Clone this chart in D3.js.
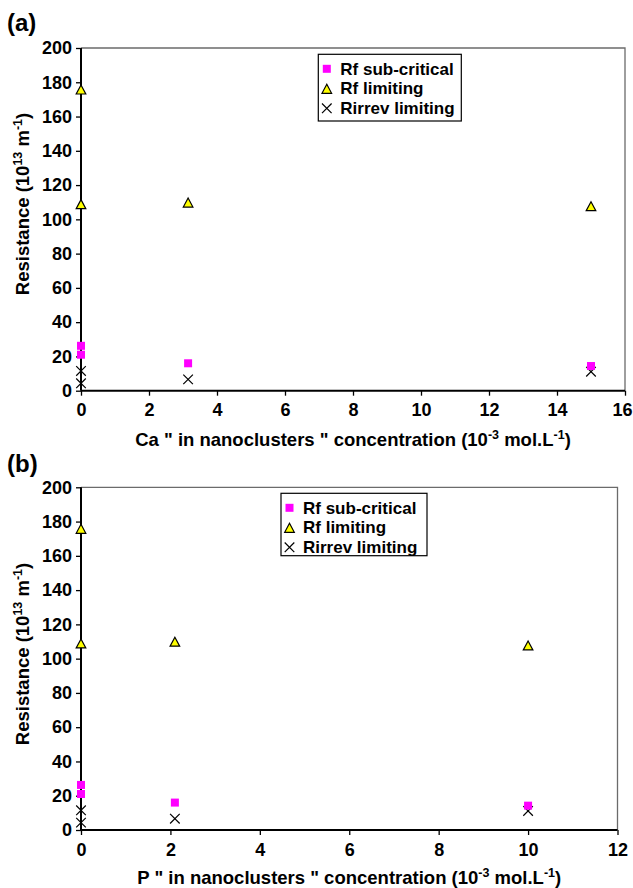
<!DOCTYPE html>
<html><head><meta charset="utf-8">
<script src="https://cdn.jsdelivr.net/npm/d3@7"></script>
<style>
html,body{margin:0;padding:0;background:#fff;}
svg{display:block;font-family:"Liberation Sans",Arial,sans-serif;}
</style></head>
<body>
<svg id="chart" width="633" height="888"></svg>
<script>
// ---- data ----
const seriesNames = ["Rf sub-critical", "Rf limiting", "Rirrev limiting"];
const yTicks = [0, 20, 40, 60, 80, 100, 120, 140, 160, 180, 200];
// Panel (a): Ca
const aTicks = [0, 2, 4, 6, 8, 10, 12, 14, 16];
const aSubX = [0, 0, 3.15, 15];
const aSubY = [26.2, 21.0, 16.0, 14.4];
const aLimX = [0, 0, 3.15, 15];
const aLimY = [175.5, 108.6, 109.5, 107.4];
const aIrrX = [0, 0, 3.15, 15];
const aIrrY = [11.5, 4.3, 6.6, 11.1];
// Panel (b): P
const bTicks = [0, 2, 4, 6, 8, 10, 12];
const bSubX = [0, 0, 2.1, 10];
const bSubY = [26.3, 21.0, 16.0, 14.2];
const bLimX = [0, 0, 2.1, 10];
const bLimY = [175.5, 108.6, 109.6, 107.4];
const bIrrX = [0, 0, 2.1, 10];
const bIrrY = [11.5, 4.3, 6.6, 11.1];

const svg = d3.select("#chart");

function zip(xs, ys){ return xs.map((x,i)=>({x:x, y:ys[i]})); }

function drawSquare(g, cx, cy){
  g.append("rect").attr("x", cx-4).attr("y", cy-4).attr("width", 8).attr("height", 8)
    .attr("fill", "#ff00ff");
}
function drawTri(g, cx, cy){
  g.append("path").attr("d", `M${cx},${cy-5} L${cx+4.8},${cy+4} L${cx-4.8},${cy+4} Z`)
    .attr("fill", "#ffff00").attr("stroke", "#000").attr("stroke-width", 1.2);
}
function drawCross(g, cx, cy){
  const s = 4.8;
  g.append("path").attr("d", `M${cx-s},${cy-s} L${cx+s},${cy+s} M${cx-s},${cy+s} L${cx+s},${cy-s}`)
    .attr("stroke", "#000").attr("stroke-width", 1.2).attr("fill", "none");
}

function panel(cfg){
  const g = svg.append("g");
  const x = d3.scaleLinear().domain([0, cfg.xmax]).range([cfg.left, cfg.right]);
  const y = d3.scaleLinear().domain([0, 200]).range([cfg.bottom, cfg.top]);

  g.append("path").attr("d", `M${cfg.left},${cfg.top} H${cfg.right} V${cfg.bottom}`)
    .attr("fill", "none").attr("stroke", "#6b6b6b").attr("stroke-width", 1.3);

  const yAx = g.append("g").attr("transform", `translate(${cfg.left},0)`)
    .call(d3.axisLeft(y).tickValues(yTicks).tickSize(5).tickPadding(4).tickFormat(d3.format("d")));
  const xAx = g.append("g").attr("transform", `translate(0,${cfg.bottom})`)
    .call(d3.axisBottom(x).tickValues(cfg.ticks).tickSize(5).tickPadding(8).tickFormat(d3.format("d")));
  [yAx, xAx].forEach(a => {
    a.select(".domain").attr("stroke", "#000").attr("stroke-width", 2);
    a.selectAll(".tick line").attr("stroke", "#000").attr("stroke-width", 1.3);
    a.selectAll(".tick text").attr("fill", "#000").style("font-size", "18px").style("font-weight", "bold")
      .style("font-family", '"Liberation Sans",Arial,sans-serif');
  });
  // keep the last x tick label inside the page
  xAx.selectAll(".tick text").filter(d => d === cfg.xmax).attr("dx", cfg.lastDx);
  yAx.select(".domain").attr("d", `M0,${cfg.bottom}V${cfg.top}`);
  xAx.select(".domain").attr("d", `M${cfg.left},0H${cfg.right}`);

  const pts = g.append("g");
  zip(cfg.irrX, cfg.irrY).forEach(d => drawCross(pts, x(d.x), y(d.y)));
  zip(cfg.limX, cfg.limY).forEach(d => drawTri(pts, x(d.x), y(d.y)));
  zip(cfg.subX, cfg.subY).forEach(d => drawSquare(pts, x(d.x), y(d.y)));

  const lg = g.append("g").attr("transform", `translate(${cfg.lx},${cfg.ly})`);
  lg.append("rect").attr("x", 0).attr("y", 0).attr("width", cfg.lw).attr("height", cfg.lh)
    .attr("fill", "#fff").attr("stroke", "#000").attr("stroke-width", 1.2);
  const rowY = [14.5, 34, 54];
  const marks = [drawSquare, drawTri, drawCross];
  seriesNames.forEach((n, i) => {
    marks[i](lg, 8.5, rowY[i] + (i===1 ? 1 : 0));
    lg.append("text").attr("x", 22).attr("y", rowY[i] + 6).text(n)
      .attr("font-size", "17px").attr("font-weight", "bold").attr("fill", "#000");
  });

  g.append("text").attr("x", 7).attr("y", cfg.labelY).text(cfg.label)
    .attr("font-size", "24px").attr("font-weight", "bold");

  const yt = g.append("text").attr("transform", `translate(29,${cfg.yTitleC}) rotate(-90)`)
    .attr("text-anchor", "middle").attr("font-size", "18.5px").attr("font-weight", "bold");
  yt.append("tspan").text("Resistance (10");
  yt.append("tspan").attr("dy", -7.5).attr("font-size", "12.5px").text("13");
  yt.append("tspan").attr("dy", 7.5).text(" m");
  yt.append("tspan").attr("dy", -7.5).attr("font-size", "12.5px").text("-1");
  yt.append("tspan").attr("dy", 7.5).text(")");

  const xt = g.append("text").attr("x", (cfg.left + cfg.right) / 2).attr("y", cfg.xTitleY)
    .attr("text-anchor", "middle").attr("font-size", "18.5px").attr("font-weight", "bold");
  xt.append("tspan").text(cfg.xName + " \" in nanoclusters \" concentration (10");
  xt.append("tspan").attr("dy", -7.5).attr("font-size", "12.5px").text("-3");
  xt.append("tspan").attr("dy", 7.5).text(" mol.L");
  xt.append("tspan").attr("dy", -7.5).attr("font-size", "12.5px").text("-1");
  xt.append("tspan").attr("dy", 7.5).text(")");
}

panel({
  xmax: 16, ticks: aTicks, left: 81, right: 625, top: 48, bottom: 390.7, lastDx: -3,
  subX: aSubX, subY: aSubY, limX: aLimX, limY: aLimY, irrX: aIrrX, irrY: aIrrY,
  lx: 318.3, ly: 54.3, lw: 143, lh: 66.7,
  label: "(a)", labelY: 31, yTitleC: 204, xTitleY: 446, xName: "Ca"
});
panel({
  xmax: 12, ticks: bTicks, left: 81, right: 617.5, top: 487.3, bottom: 830, lastDx: 0,
  subX: bSubX, subY: bSubY, limX: bLimX, limY: bLimY, irrX: bIrrX, irrY: bIrrY,
  lx: 281, ly: 493.3, lw: 146, lh: 62.4,
  label: "(b)", labelY: 472, yTitleC: 654, xTitleY: 884, xName: "P"
});
</script>
</body></html>
